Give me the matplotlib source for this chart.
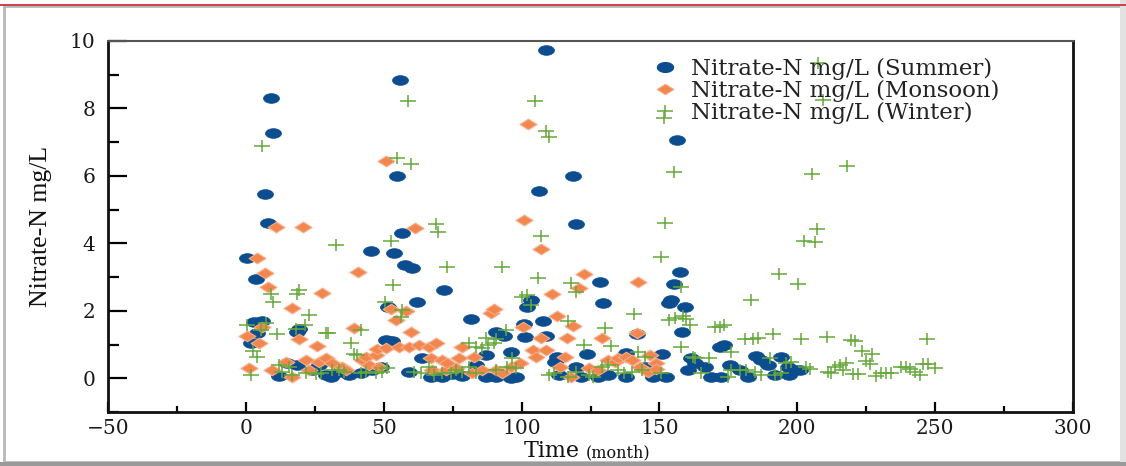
import matplotlib
matplotlib.use("Agg")
import matplotlib.pyplot as plt
import numpy as np
from matplotlib.path import Path
from matplotlib.patches import Rectangle
from matplotlib.lines import Line2D
from matplotlib.ticker import MultipleLocator

# values (time in months, Nitrate-N mg/L)
summer_x = [0.4, 3.6, 6.9, 8.0, 9.0, 9.8, 2.9, 5.8, 4.0, 1.8, 19.2, 18.5,
            12, 14.9, 18.5, 23.9, 26.4, 29, 31, 33.7, 37.3, 41.7, 45.7, 48.9,
            45.3, 53.6, 57.6, 60.1, 54.7, 55.8, 56.5, 71.7, 62, 51.4, 81.5, 50.7,
            52.9, 90.9, 93.5, 96, 63.8, 87,
            59, 67, 71, 74.6, 78.3, 83.3, 87, 90.6, 96,
            108.7, 156.5, 118.5, 106.5, 119.6, 157.6, 155.4, 128.6, 129.7, 154.3,
            153.3, 159.4, 103.3, 101.8, 107.6, 100.7, 158.3, 141.7, 101.4, 109,
            173.6, 172, 151, 123.6, 137.7, 185, 194, 161.6, 112.7,
            97.8, 112.3, 113.4, 119.6, 121.4, 127.9, 131.5, 137.7, 144.9, 147.8,
            152.5, 160.5, 163, 166.7, 168.8, 172.5, 175.7, 179.3, 182.2, 187,
            189.5, 192, 196.7, 199.3, 197, 201]
summer_y = [3.56, 2.94, 5.46, 4.6, 8.3, 7.27, 1.66, 1.69, 1.34, 1.04, 1.45, 1.38,
            0.06, 0.45, 0.39, 0.24, 0.39, 0.09, 0.03, 0.18, 0.09, 0.15, 0.24, 0.33,
            3.77, 3.70, 3.35, 3.26, 6.0, 8.84, 4.3, 2.63, 2.26, 2.11, 1.75, 1.13,
            1.1, 1.37, 1.25, 0.77, 0.6, 0.68,
            0.18, 0.03, 0.03, 0.12, 0.06, 0.39, 0.03, 0.03, 0.0,
            9.73, 7.06, 5.99, 5.55, 4.57, 3.15, 2.79, 2.85, 2.22, 2.31,
            2.22, 2.1, 2.31, 2.1, 1.69, 1.6, 1.37, 1.3, 1.22, 1.25,
            0.98, 0.92, 0.71, 0.71, 0.74, 0.65, 0.62, 0.59, 0.62,
            0.03, 0.47, 0.09, 0.33, 0.03, 0.03, 0.09, 0.03, 0.33, 0.03,
            0.03, 0.24, 0.45, 0.33, 0.03, 0.03, 0.39, 0.24, 0.03, 0.53,
            0.39, 0.09, 0.33, 0.24, 0.1, 0.25]

monsoon_x = [0.4, 1.1, 4, 4.7, 5.8, 6.9, 8, 9.4, 10.9, 14.5, 16.7, 16.7, 19.2,
             20.7, 21.7, 22.8, 25.7, 26.4, 27.5, 29, 31.2, 34.8, 36.2, 39.1, 40.6,
             42, 43.5, 44.6, 47.1, 47.5, 48.2, 50.7, 50.7, 52.5, 54.3, 55.4, 58,
             59, 59.8, 61.2, 62.7, 66.3, 67, 67.4, 68.8, 71, 72.5, 72.8, 76.1,
             77.2, 78.3, 81.9, 82.6, 85.5, 89, 89.9, 90.6, 92.8, 96, 99.6, 100.4,
             101, 102.5, 104.3, 105.4, 106.9, 107.2, 108.7, 110.9, 112.7, 114.1,
             115.6, 116.3, 117.8, 118.8, 121, 122.5, 124.3, 127.9, 129, 131.5,
             134, 135, 137.7, 139.9, 141.7, 142.4, 143.1, 146, 146.7, 148.6, 148.9]
monsoon_y = [1.25, 0.3, 3.56, 1.04, 1.51, 3.12, 2.7, 0.24, 4.48, 0.47, 2.08, 0.03, 1.16,
             4.48, 0.53, 0.24, 0.95, 0.47, 2.52, 0.59, 0.45, 0.33, 0.24, 1.48, 3.15,
             0.53, 0.62, 0.39, 0.68, 0.86, 0.33, 6.44, 0.89, 2.05, 1.72, 0.92, 1.99,
             0.92, 1.37, 4.45, 0.98, 0.92, 0.59, 0.24, 1.04, 0.53, 0.24, 0.45, 0.3,
             0.59, 0.92, 0.15, 0.62, 0.24, 1.93, 2.05, 0.24, 0.15, 0.33, 0.45, 1.51,
             4.69, 7.54, 0.83, 0.62, 3.83, 1.19, 0.83, 2.49, 1.84, 0.33,
             0.62, 1.19, 0.03, 1.54, 2.67, 3.09, 0.3, 0.24, 1.19, 0.53,
             0.47, 0.59, 0.62, 0.53, 1.34, 2.85, 0.33, 0.18, 0.68, 0.45, 0.27]

winter_x = [0.4, 1.8, 2.5, 4, 5.4, 5.8, 7.2, 9, 9.8, 11.2, 12, 13, 15.6, 16.7, 18.1,
            18.5, 19.2, 21.4, 21.7, 22.8, 25.4, 27.2, 29, 29.7, 31.2, 32.6, 33.7,
            35.5, 38, 39.1, 40.2, 41.7, 41.7, 43.5, 47.1, 49.3, 50.4, 51.1, 52.5,
            53.3, 54.7, 56.2, 56.5, 58.7, 59.8, 60.9, 63.4, 66.3, 68.1, 68.8, 69.6,
            71, 72.8, 74.3, 76.1, 78.3, 80.8, 80.8, 83.3, 83.3, 85.5, 87, 88, 89.9,
            90.6, 90.6, 92.8, 94.2, 94.6, 96.4, 97.8, 100, 101.8, 103.6, 104.7,
            105.8, 107.2, 108.7, 109.8, 109.8, 111.6, 117, 117, 118.1, 119.6, 119.6,
            122.5, 124.3, 126, 129, 130.4, 131.5, 132.6, 135.1, 137, 139.9, 140.6,
            142.4, 143.5, 144.9, 150.4, 150.4, 152.2, 151.8, 153.3, 155.4, 155.8,
            158, 158.7, 158, 159.8, 161.2, 162.3, 163, 165.2, 167.8, 170.3, 172.1,
            173.6, 175, 176, 176.1, 179.3, 181, 181.5, 183.3, 184, 184.8, 185.9,
            187, 190.2, 191.3, 192, 193.5, 194.2, 196, 197.8, 200.4, 201.4, 202.5,
            203.3, 204.7, 205.4, 206.5, 207.2, 207.6, 209.4, 210.9, 211.2, 212.3,
            213.8, 215.6, 216.7, 217.8, 218.1, 219.6, 220.3, 221, 222, 223.6, 225,
            226.4, 227.2, 228.6, 230.4, 232.2, 234, 237.7, 239.5, 241, 242.8,
            244.6, 245.7, 247.1, 247.5, 250]
winter_y = [1.57, 0.09, 0.8, 0.62, 1.42, 6.88, 1.63, 2.49, 2.26, 1.3, 0.39, 0.18, 0.33, 0.09, 1.45,
            2.49, 2.61, 1.57, 0.15, 1.87, 0.12, 0.15, 1.34, 1.34, 0.24, 3.95, 0.24,
            0.18, 1.04, 0.71, 0.68, 1.42, 0.15, 0.18, 0.15, 0.18, 2.26, 0.3, 4.07,
            2.76, 6.53, 1.81, 2.02, 8.22, 6.35, 0.18, 0.15, 0.33, 0.09, 4.57, 4.33,
            0.15, 3.29, 0.15, 0.24, 0.18, 1.04, 0.33, 0.92, 0.15, 0.89, 1.19, 0.98, 1.04,
            1.16, 0.24, 3.29, 1.42, 0.33, 0.59, 0.3, 2.4, 2.46, 2.17, 8.22,
            2.97, 4.21, 7.33, 7.15, 0.09, 0.15, 1.69, 0.03, 2.82, 2.55, 0.18,
            0.98, 0.09, 0.03, 0.33, 1.48, 0.39, 0.95, 0.24, 0.15, 0.18, 1.9,
            0.77, 0.24, 0.62, 3.59, 0.15, 4.6, 7.72, 1.72, 6.11, 1.78,
            2.7, 1.84, 0.92, 1.75, 1.57, 0.62, 0.59, 0.15, 0.59, 1.51, 1.51,
            1.57, 0.03, 0.77, 0.24, 0.24, 1.16, 0.24, 2.31, 1.16, 0.18, 1.19,
            0.09, 0.59, 1.3, 0.09, 3.09, 0.15, 0.45, 0.47, 2.79, 1.16, 4.07,
            0.33, 0.27, 6.05, 4.04, 4.42, 9.35, 8.25, 1.22, 0.18, 0.15,
            0.33, 0.39, 0.24, 0.45, 6.29, 1.13, 0.12, 1.1, 0.12, 0.8, 0.5,
            0.42, 0.71, 0.06, 0.15, 0.15, 0.15, 0.33, 0.33, 0.27, 0.18,
            0.09, 0.42, 1.16, 0.42, 0.3]

labels = ["Nitrate-N mg/L (Summer)", "Nitrate-N mg/L (Monsoon)", "Nitrate-N mg/L (Winter)"]
colors = ["#0b4d8f", "#f2864f", "#66a83a"]

W, H = 1126, 466
fig = plt.figure(figsize=(W / 100, H / 100), dpi=100)
fig.patch.set_facecolor("white")

# picture frame: soft grey shadow border with a red line on top
fig.patches.append(Rectangle((4 / W, 4 / H), 1 - 9 / W, 1 - 10 / H, transform=fig.transFigure,
                             fill=False, edgecolor="#b8b8b8", linewidth=2, zorder=0))
fig.patches.append(Rectangle((1 - 6 / W, 0), 6 / W, 1, transform=fig.transFigure,
                             facecolor="#e2e2e2", edgecolor="none", zorder=0))
fig.patches.append(Rectangle((0, 1 - 5.5 / H), 1, 1.5 / H, transform=fig.transFigure,
                             facecolor="#d0454b", edgecolor="none", zorder=1))
fig.patches.append(Rectangle((0, 0), 1, 4 / H, transform=fig.transFigure,
                             facecolor="#9a9a9a", edgecolor="none", zorder=1))

ax = fig.add_axes([108 / W, 1 - 412 / H, 965 / W, 371 / H])

# the reference is stretched sideways, so the markers are wide
t = np.linspace(0, 2 * np.pi, 40)
ellipse = Path(np.column_stack([1.65 * np.cos(t), np.sin(t)]), closed=True)
diamond = Path([(-1.6, 0), (0, 1), (1.6, 0), (0, -1), (-1.6, 0)], closed=True)
plus = Path([(-1.45, 0), (1.45, 0), (0, -1), (0, 1)],
            [Path.MOVETO, Path.LINETO, Path.MOVETO, Path.LINETO])

ax.plot(summer_x, summer_y, ls="none", marker=ellipse, ms=11.5, color=colors[0],
        mec=colors[0], mew=0.5, label=labels[0], zorder=3)
# faint halo behind the monsoon diamonds
ax.plot(monsoon_x, monsoon_y, ls="none", marker=diamond, ms=17, color="#999999",
        mec="none", alpha=0.07, zorder=3.5)
ax.plot(monsoon_x, monsoon_y, ls="none", marker=diamond, ms=12, color=colors[1],
        mec="#f7ab82", mew=0.8, label=labels[1], zorder=4)
ax.plot(winter_x, winter_y, ls="none", marker=plus, ms=11.5, color=colors[2],
        mec=colors[2], mfc="none", mew=1.1, label=labels[2], zorder=5)

ax.set_xlim(-50, 300)
ax.set_ylim(-1, 10)
ax.xaxis.set_major_locator(MultipleLocator(50))
ax.xaxis.set_minor_locator(MultipleLocator(25))
ax.yaxis.set_major_locator(MultipleLocator(2))
ax.yaxis.set_minor_locator(MultipleLocator(1))
ax.tick_params(axis="x", which="major", direction="in", length=7.5, width=1.6, pad=5,
               labelsize=14.5, top=False)
ax.tick_params(axis="x", which="minor", direction="in", length=4.5, width=1.6, top=False)
ax.tick_params(axis="y", which="major", direction="in", length=14, width=1.6, pad=9,
               labelsize=14.5, right=False)
ax.tick_params(axis="y", which="minor", direction="in", length=8, width=1.6, right=False)
for lab in ax.get_xticklabels() + ax.get_yticklabels():
    lab.set_fontfamily("DejaVu Serif")
    lab.set_color("#1a1a1a")

for side in ["left", "bottom", "right"]:
    ax.spines[side].set_linewidth(2)
    ax.spines[side].set_color("#111111")
ax.spines["top"].set_linewidth(1.5)
ax.spines["top"].set_color("#555555")

ax.set_ylabel("Nitrate-N mg/L", fontsize=18.5, family="Liberation Serif", color="#111111",
              labelpad=13)

fig.text(580 / W, 1 - 457 / H, "Time", ha="right", va="baseline", fontsize=16,
         family="DejaVu Serif", color="#111111")
fig.text(586 / W, 1 - 457 / H, "(month)", ha="left", va="baseline", fontsize=11.5,
         family="DejaVu Serif", color="#111111")

handles = [
    Line2D([], [], ls="none", marker=ellipse, ms=11.5, color=colors[0], mec=colors[0]),
    Line2D([], [], ls="none", marker=diamond, ms=12, color=colors[1], mec="#f7ab82", mew=0.8),
    Line2D([], [], ls="none", marker=plus, ms=11.5, mec=colors[2], mfc="none", mew=1.1),
]
leg = ax.legend(handles, labels, loc="upper left", bbox_to_anchor=(0.555, 0.98),
                frameon=False, prop={"family": "DejaVu Serif", "size": 16.5},
                handletextpad=0.55, labelspacing=0.0, handlelength=1.1, borderaxespad=0)
for txt in leg.get_texts():
    txt.set_color("#222222")

fig.savefig("out.png", dpi=100, facecolor=fig.get_facecolor())
